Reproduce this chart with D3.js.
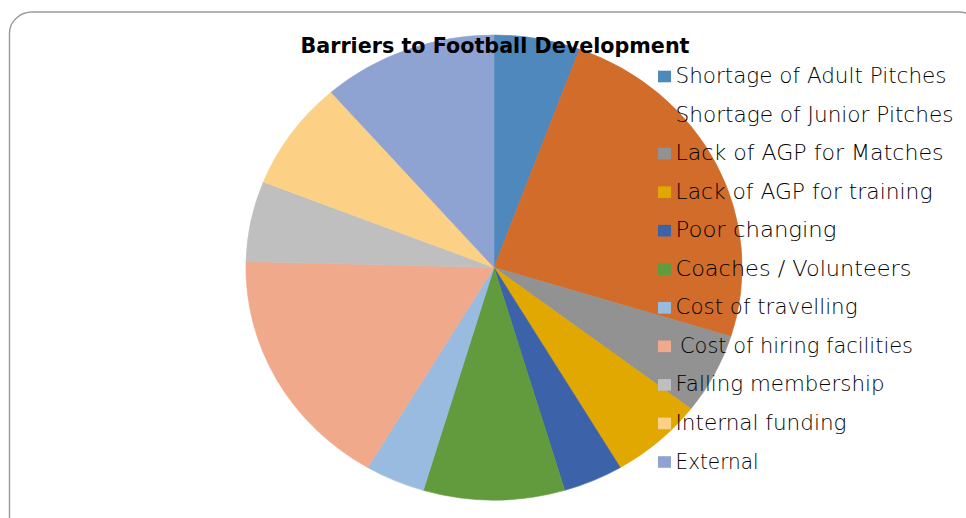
<!DOCTYPE html>
<html>
<head>
<meta charset="utf-8">
<script src="https://cdn.jsdelivr.net/npm/d3@7"></script>
<style>
  html, body { margin: 0; padding: 0; background: #fff; }
  svg { display: block; }
</style>
</head>
<body>
<svg id="chart" width="966" height="518"></svg>
<script>
// Survey: barriers to football development (share of responses, %)
const categories = [
  "Shortage of Adult Pitches",
  "Shortage of Junior Pitches",
  "Lack of AGP for Matches",
  "Lack of AGP for training",
  "Poor changing",
  "Coaches / Volunteers",
  "Cost of travelling",
  "Cost of hiring facilities",
  "Falling membership",
  "Internal funding",
  "External"
];
const values = [5.6, 24.2, 5.6, 6.1, 3.9, 9.2, 3.9, 16.9, 5.6, 7.6, 11.4];
const colors = [
  "#4e88bd", "#d26c2b", "#929292", "#e0a800", "#3c63aa", "#629a3e",
  "#9abbe0", "#f0a98a", "#bfbfbf", "#fdd185", "#8fa3d3"
];
const title = "Barriers to Football Development";

const svg = d3.select("#chart");

// Rounded chart frame
svg.append("rect")
  .attr("x", 9.5).attr("y", 12)
  .attr("width", 972).attr("height", 540)
  .attr("rx", 23).attr("ry", 21)
  .attr("fill", "#fff")
  .attr("stroke", "#9a9a9a")
  .attr("stroke-width", 1.4);

// Pie (drawn slightly wider than tall)
const radius = 232.5;
const stretchX = 1.067;
const data = categories.map((c, i) => ({ name: c, value: values[i], color: colors[i] }));
const pie = d3.pie().sort(null).value(d => d.value);
const arc = d3.arc().innerRadius(0).outerRadius(radius);

const g = svg.append("g")
  .attr("transform", `translate(494,267.5) scale(${stretchX},1)`);

g.selectAll("path")
  .data(pie(data))
  .join("path")
  .attr("d", arc)
  .attr("fill", d => d.data.color)
  .attr("stroke", d => d.data.color)
  .attr("stroke-width", 0.6);

// Title
svg.append("text")
  .attr("x", 300.5).attr("y", 52.7)
  .attr("textLength", 389)
  .attr("lengthAdjust", "spacingAndGlyphs")
  .attr("font-family", "'DejaVu Sans', sans-serif")
  .attr("font-weight", "bold")
  .attr("font-size", 22)
  .attr("fill", "#000")
  .text(title);

// Legend
const legendWidths = [271, 278, 268, 257, 161, 236, 182, 233, 209, 171, 83];
const legend = svg.append("g");
const rows = legend.selectAll("g")
  .data(data)
  .join("g")
  .attr("transform", (d, i) => `translate(0,${83 + i * 38.55})`);

rows.append("rect")
  .attr("x", 658).attr("y", -12.3)
  .attr("width", 13).attr("height", 11.6)
  .attr("fill", d => d.color);

rows.append("text")
  .attr("x", (d, i) => i === 7 ? 680 : 675.5)
  .attr("y", 0)
  .attr("textLength", (d, i) => legendWidths[i])
  .attr("lengthAdjust", "spacingAndGlyphs")
  .attr("font-family", "'DejaVu Sans', sans-serif")
  .attr("font-weight", 200)
  .attr("font-size", 20.5)
  .attr("fill", "#000")
  .text(d => d.name);
</script>
</body>
</html>
